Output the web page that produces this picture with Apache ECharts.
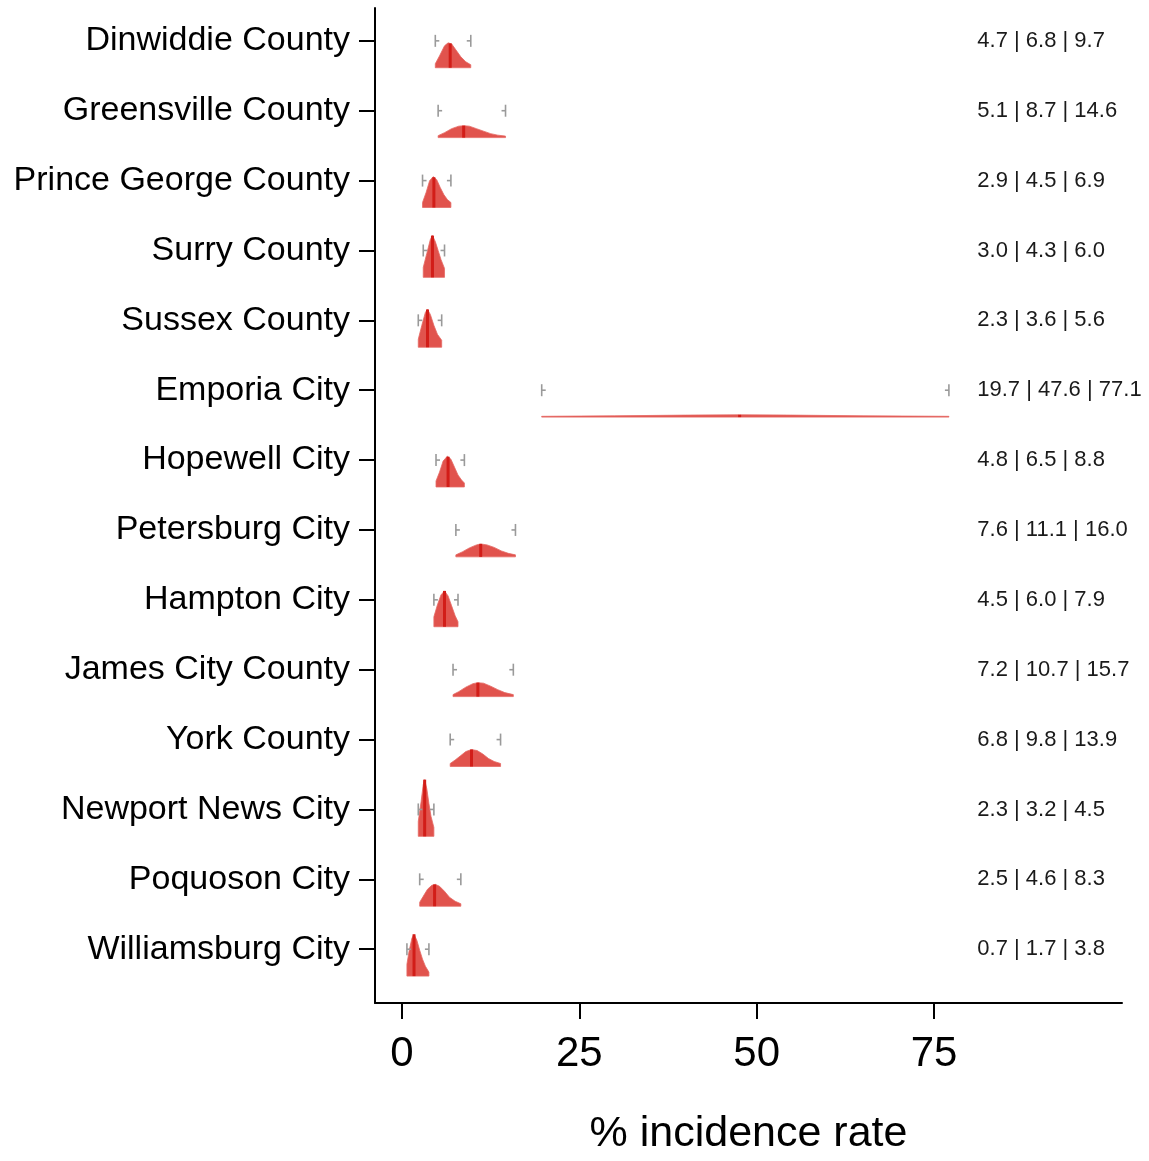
<!DOCTYPE html>
<html>
<head>
<meta charset="utf-8">
<script src="https://cdn.jsdelivr.net/npm/echarts@6/dist/echarts.min.js"></script>
<style>
html,body{margin:0;padding:0;background:#fff;overflow:hidden;}
#chart{width:1149px;height:1161px;}
</style>
</head>
<body>
<div id="chart"></div>
<script>
const categories = ['Dinwiddie County','Greensville County','Prince George County','Surry County','Sussex County','Emporia City','Hopewell City','Petersburg City','Hampton City','James City County','York County','Newport News City','Poquoson City','Williamsburg City'];
const lows    = [4.7, 5.1, 2.9, 3.0, 2.3, 19.7, 4.8, 7.6, 4.5, 7.2, 6.8, 2.3, 2.5, 0.7];
const medians = [6.8, 8.7, 4.5, 4.3, 3.6, 47.6, 6.5, 11.1, 6.0, 10.7, 9.8, 3.2, 4.6, 1.7];
const highs   = [9.7, 14.6, 6.9, 6.0, 5.6, 77.1, 8.8, 16.0, 7.9, 15.7, 13.9, 4.5, 8.3, 3.8];
const xTicks  = [0, 25, 50, 75];
// density curves: [rate, relative density]
const densDinwiddie   = [[4.7,4],[5.3,12],[6.0,22],[6.5,25],[7.0,24],[7.6,18],[8.3,11],[9.0,6],[9.7,3]];
const densGreensville = [[5.1,2],[6.0,5],[7.0,9],[8.0,11.5],[8.7,12],[9.5,11.5],[10.5,9],[11.5,6.5],[12.5,4],[13.5,2.5],[14.6,1.5]];
const densPrinceGeorge= [[2.9,5],[3.4,15],[3.9,27],[4.4,31],[4.9,28],[5.4,20],[5.9,13],[6.4,8],[6.9,5]];
const densSurry       = [[3.0,10],[3.5,24],[4.0,38],[4.3,42],[4.7,36],[5.1,27],[5.5,18],[6.0,9]];
const densSussex      = [[2.3,8],[2.8,22],[3.3,35],[3.6,38],[4.0,33],[4.5,22],[5.0,13],[5.6,7]];
const densEmporia     = [[19.7,0.8],[30,1.3],[40,2.0],[47.6,2.3],[55,2.0],[65,1.3],[77.1,0.8]];
const densHopewell    = [[4.8,6],[5.3,15],[5.8,26],[6.4,31],[6.9,28],[7.4,20],[7.9,12],[8.4,7],[8.8,4]];
const densPetersburg  = [[7.6,2],[8.5,5],[9.5,9],[10.5,12],[11.1,13],[12.0,12],[13.0,9.5],[14.0,6],[15.0,3.5],[16.0,2]];
const densHampton     = [[4.5,10],[5.0,22],[5.5,32],[6.0,36],[6.5,31],[7.0,21],[7.5,11],[7.9,5]];
const densJamesCity   = [[7.2,2],[8.0,5],[9.0,9.5],[10.0,13],[10.7,14],[11.5,13.5],[12.5,10.5],[13.5,7],[14.5,4],[15.7,2]];
const densYork        = [[6.8,3],[7.5,6.5],[8.3,11],[9.0,15],[9.8,17],[10.6,16],[11.4,12.5],[12.2,8],[13.0,5],[13.9,3]];
const densNewportNews = [[2.3,15],[2.7,35],[3.0,52],[3.2,57],[3.5,48],[3.8,33],[4.1,20],[4.5,9]];
const densPoquoson    = [[2.5,4],[3.0,10],[3.6,17],[4.2,21],[4.7,22],[5.3,20],[6.0,15],[6.7,9],[7.5,5],[8.3,2.5]];
const densWilliamsburg= [[0.7,12],[1.0,25],[1.4,38],[1.7,42],[2.1,36],[2.5,26],[2.9,17],[3.3,10],[3.8,4]];
const densities = [densDinwiddie,densGreensville,densPrinceGeorge,densSurry,densSussex,densEmporia,densHopewell,densPetersburg,densHampton,densJamesCity,densYork,densNewportNews,densPoquoson,densWilliamsburg];

const FONT = 'Liberation Sans, Arial, sans-serif';
const DENS_SCALE = 1 / 70.23;   // density unit -> y-axis units
const BASE_OFF = 0.385;          // baseline offset below category line
const LABEL_X = 81.1;            // x position of the interval text

function interp(pts, x) {
  for (let k = 0; k < pts.length - 1; k++) {
    if (x >= pts[k][0] && x <= pts[k+1][0]) {
      const t = (x - pts[k][0]) / (pts[k+1][0] - pts[k][0]);
      return pts[k][1] + t * (pts[k+1][1] - pts[k][1]);
    }
  }
  return pts[pts.length-1][1];
}

function renderItem(params, api) {
  const i = api.value(0);
  const pts = densities[i];
  const base = i + BASE_OFF;
  const poly = [api.coord([pts[0][0], base])];
  pts.forEach(p => poly.push(api.coord([p[0], base - p[1] * DENS_SCALE])));
  poly.push(api.coord([pts[pts.length-1][0], base]));
  const mh = interp(pts, medians[i]);
  const m0 = api.coord([medians[i], base]);
  const m1 = api.coord([medians[i], base - mh * DENS_SCALE]);
  const L = api.coord([lows[i], i]);
  const H = api.coord([highs[i], i]);
  const grey = {stroke:'#9a9a9a', lineWidth:1.6};
  const t = api.coord([LABEL_X, i]);
  return {
    type:'group',
    children:[
      {type:'polygon', shape:{points:poly}, style:{fill:'#e1534d', stroke:'#e46a65', lineWidth:0.8}},
      {type:'line', shape:{x1:m0[0], y1:m0[1], x2:m1[0], y2:m1[1]}, style:{stroke:'#d21d18', lineWidth:3}},
      {type:'line', shape:{x1:L[0], y1:L[1]-6, x2:L[0], y2:L[1]+6}, style:grey},
      {type:'line', shape:{x1:L[0], y1:L[1], x2:L[0]+4, y2:L[1]}, style:grey},
      {type:'line', shape:{x1:H[0], y1:H[1]-6, x2:H[0], y2:H[1]+6}, style:grey},
      {type:'line', shape:{x1:H[0], y1:H[1], x2:H[0]-4, y2:H[1]}, style:grey},
      {type:'text', style:{x:t[0], y:t[1], text: lows[i].toFixed(1)+' | '+medians[i].toFixed(1)+' | '+highs[i].toFixed(1),
        fill:'#1a1a1a', font:'22px '+FONT, textAlign:'left', textVerticalAlign:'middle'}}
    ]
  };
}

const chart = echarts.init(document.getElementById('chart'), null, {renderer:'canvas'});
chart.setOption({
  animation:false,
  backgroundColor:'#ffffff',
  grid:{left:375, right:27, top:8, bottom:153, containLabel:false},
  xAxis:{
    type:'value', min:-3.8, max:101.5,
    name:'% incidence rate', nameLocation:'middle', nameGap:110,
    nameTextStyle:{fontSize:43, color:'#000', fontFamily:FONT},
    axisLine:{show:true, onZero:false, lineStyle:{color:'#000', width:2}},
    axisTick:{show:true, length:16, lineStyle:{color:'#000', width:2}, customValues:xTicks},
    axisLabel:{fontSize:42, color:'#000', fontFamily:FONT, margin:30, customValues:xTicks},
    splitLine:{show:false}
  },
  yAxis:{
    type:'value', min:-0.47, max:13.77, inverse:true,
    axisLine:{show:true, onZero:false, lineStyle:{color:'#000', width:2}},
    axisTick:{show:true, length:16, lineStyle:{color:'#000', width:2}, customValues:categories.map((c,i)=>i)},
    axisLabel:{fontSize:34, color:'#000', fontFamily:FONT, margin:25, customValues:categories.map((c,i)=>i),
      formatter:v => categories[Math.round(v)] || ''},
    splitLine:{show:false}
  },
  series:[{
    type:'custom', renderItem:renderItem, clip:false,
    encode:{x:-1, y:0},
    data:categories.map((c,i)=>[i])
  }]
});
</script>
</body>
</html>
